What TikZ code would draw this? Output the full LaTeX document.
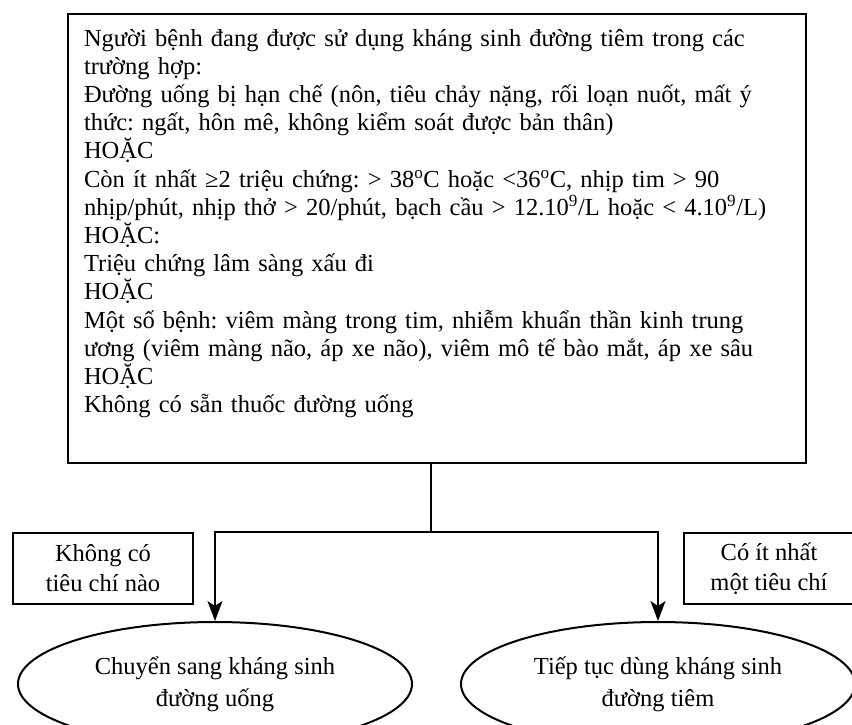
\documentclass[tikz,border=0pt]{standalone}
\usepackage{fontspec}
\setmainfont{Liberation Serif}
\frenchspacing
\usepackage{tikz}
\usetikzlibrary{arrows.meta}
\usetikzlibrary{positioning}
\usetikzlibrary{shapes.geometric}
\tikzset{%
	>={Stealth[width=15pt,length=20pt,inset=5pt]},
	% Specifications for style of nodes:
	base/.style = {rectangle, draw=black, line width=2pt,
				   font=\fontsize{24.5}{28.2}\selectfont},
	criteria/.style = {base, minimum width=738pt, minimum height=449pt,
					   anchor=north west},
	criteriaText/.style = {anchor=north west, text width=715pt, align=left,
						   inner sep=0pt, font=\fontsize{24.5}{28.2}\selectfont},
	choice/.style = {base, minimum height=71pt, anchor=north west,
					 align=center, font=\fontsize{24.5}{30}\selectfont},
	outcome/.style = {base, ellipse, minimum width=394pt, minimum height=124pt,
					  inner sep=0pt, align=center, font=\fontsize{24.5}{32}\selectfont},
}

\begin{document}
\begin{tikzpicture}[x=1pt, y=-1pt, line width=2pt]

	\useasboundingbox (0,0) rectangle (852,724);

	% Specification of nodes (position, etc.)

	\node (criteriaBox)	[criteria] at (67,13) {};
	\node (criteriaList) [criteriaText] at (83,28)
		{Người bệnh đang được sử dụng kháng sinh đường tiêm trong các\\
		 trường hợp:\\
		 Đường uống bị hạn chế (nôn, tiêu chảy nặng, rối loạn nuốt, mất ý\\
		 thức: ngất, hôn mê, không kiểm soát được bản thân)\\
		 HOẶC\\
		 Còn ít nhất ≥2 triệu chứng: > 38\textsuperscript{o}C hoặc <36\textsuperscript{o}C, nhịp tim > 90\\
		 nhịp/phút, nhịp thở > 20/phút, bạch cầu > 12.10\textsuperscript{9}/L hoặc < 4.10\textsuperscript{9}/L)\\
		 HOẶC:\\
		 Triệu chứng lâm sàng xấu đi\\
		 HOẶC\\
		 Một số bệnh: viêm màng trong tim, nhiễm khuẩn thần kinh trung\\
		 ương (viêm màng não, áp xe não), viêm mô tế bào mắt, áp xe sâu\\
		 HOẶC\\
		 Không có sẵn thuốc đường uống};

	\node (noneBox)	[choice, minimum width=180pt] at (12,532) {Không có\\tiêu chí nào};
	\node (anyBox)	[choice, minimum width=170pt] at (683,532) {Có ít nhất\\một tiêu chí};
	\node (oralNode)	[outcome] at (215,684) {Chuyển sang kháng sinh\\đường uống};
	\node (ivNode)	[outcome] at (658,684) {Tiếp tục dùng kháng sinh\\đường tiêm};

	% Specification of lines between nodes specified above

	\coordinate (split) at (431,532);
	\draw (split |- criteriaBox.south) -- (split);
	\draw[->] (split) -| (oralNode.north);
	\draw[->] (split) -| (ivNode.north);

\end{tikzpicture}
\end{document}
